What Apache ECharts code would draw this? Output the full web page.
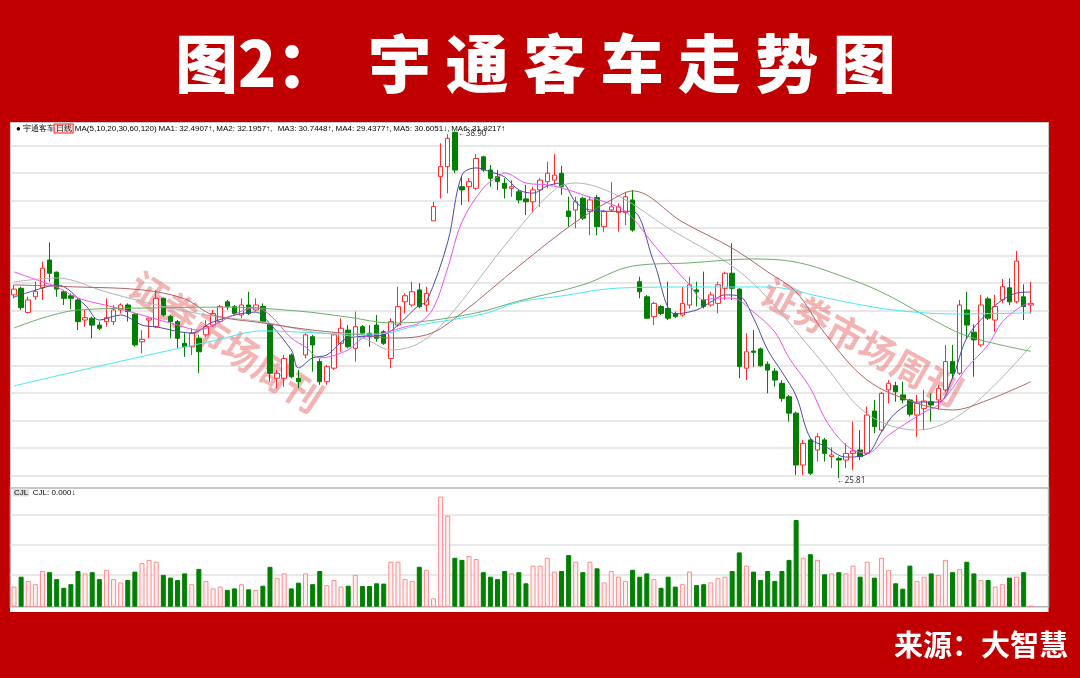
<!DOCTYPE html>
<html><head><meta charset="utf-8">
<script src="https://cdn.jsdelivr.net/npm/echarts@6/dist/echarts.min.js"></script>
<style>html,body{margin:0;padding:0;background:#c00000;overflow:hidden}#c{width:1080px;height:678px}</style>
</head><body><div id="c"></div>
<script>
// Daily candles: [open, close, low, high]
const ohlc = [
[32.73,32.95,32.60,33.11],[32.98,32.25,32.16,33.04],[32.07,32.54,32.03,32.66],[32.66,32.85,32.54,33.23],[33.00,33.74,32.54,33.99],
[34.05,33.55,33.23,34.72],[33.59,32.95,32.66,33.61],[32.85,32.60,32.35,32.92],[32.70,32.60,32.20,32.79],[32.54,31.72,31.40,32.60],
[31.78,31.87,31.53,32.16],[31.85,31.59,31.09,31.91],[31.59,31.47,31.40,31.72],[31.72,31.87,31.53,32.60],[31.72,32.16,31.59,32.35],
[32.16,32.35,32.03,32.41],[32.35,32.10,31.72,32.41],[32.00,30.84,30.77,32.03],[30.96,31.05,30.52,31.40],[31.78,31.85,31.09,31.87],
[31.53,32.60,31.47,32.92],[32.60,31.97,31.91,32.63],[31.91,31.72,31.09,31.97],[31.72,31.09,30.71,31.78],[30.90,30.77,30.39,31.28],
[30.77,31.28,30.46,31.47],[31.09,30.58,29.77,31.22],[31.22,31.53,31.15,31.78],[31.59,32.03,31.52,32.16],[31.72,32.29,31.66,32.35],
[32.47,32.29,32.16,32.54],[32.29,32.03,31.97,32.35],[31.97,32.35,31.85,32.60],[32.35,32.03,31.97,32.85],[32.16,32.35,32.10,32.60],
[32.29,31.72,31.66,32.41],[31.62,29.77,29.45,31.66],[29.58,29.77,29.20,29.89],[29.58,30.33,29.26,30.46],[30.46,29.64,29.58,30.52],
[29.58,29.45,29.20,29.89],[30.46,31.22,30.33,31.28],[31.15,30.84,29.83,31.22],[30.21,29.45,29.33,30.33],[29.45,30.02,29.33,30.08],
[29.96,31.22,29.89,31.28],[30.90,31.47,30.58,31.85],[31.40,30.77,30.71,31.59],[30.71,31.53,30.21,32.10],[31.53,31.28,31.22,31.59],
[31.28,31.15,30.77,31.59],[31.59,31.09,30.96,31.97],[31.34,30.90,30.84,31.40],[30.33,31.72,29.96,31.85],[31.59,32.29,31.53,33.04],
[32.47,32.70,32.03,32.79],[32.35,32.85,32.29,33.23],[32.92,32.29,32.22,33.17],[32.35,32.79,32.10,33.04],[35.53,36.07,35.53,36.25],
[37.20,37.58,36.38,38.46],[37.58,38.65,36.57,38.80],[38.88,37.45,37.33,38.90],[36.82,36.70,36.13,37.20],[36.82,37.01,36.25,37.14],
[36.76,37.89,36.70,38.05],[37.95,37.45,37.39,37.99],[37.45,37.14,36.82,37.64],[37.20,37.01,36.70,37.45],[36.95,36.76,36.38,37.14],
[36.76,36.82,36.44,37.07],[36.63,36.32,36.19,36.70],[36.36,36.25,35.75,36.89],[36.25,36.70,35.84,36.82],[36.70,37.07,36.06,37.14],
[37.01,37.33,36.76,37.77],[37.07,37.26,36.89,38.05],[37.33,36.82,36.51,37.61],[35.90,35.69,35.31,36.44],[35.94,36.25,35.25,36.44],
[36.38,35.63,35.56,36.44],[35.88,36.32,34.99,36.44],[36.41,35.31,34.99,36.51],[35.31,35.88,35.12,35.94],[35.94,36.06,35.88,36.99],
[35.84,36.06,35.12,36.19],[35.84,36.44,35.37,36.63],[36.32,35.18,35.12,36.70],[33.23,32.85,32.60,33.42],[32.66,31.85,31.82,32.73],
[31.91,32.41,31.59,32.47],[32.29,32.03,31.97,32.35],[32.22,31.85,31.78,33.23],[32.03,31.91,31.85,32.10],[31.97,32.41,31.91,33.04],
[32.35,33.11,32.22,33.42],[32.92,32.85,32.29,33.23],[32.54,32.29,32.22,33.61],[32.35,32.73,32.29,32.85],[32.41,33.11,32.03,33.23],
[32.98,33.55,32.54,33.61],[33.55,32.98,32.54,34.68],[32.95,30.02,29.58,32.98],[29.96,30.58,29.51,31.28],[30.61,30.56,30.00,31.40],
[30.69,30.05,30.02,30.74],[30.11,29.89,29.01,30.21],[29.85,29.51,29.26,29.96],[29.39,28.82,28.69,29.51],[28.88,28.26,27.94,28.95],
[28.26,26.30,25.92,28.32],[26.30,27.12,25.92,27.25],[27.25,25.99,25.92,27.32],[26.87,27.37,26.43,27.50],[27.25,26.74,26.43,27.32],
[26.62,26.68,26.18,26.97],[26.55,26.49,25.81,26.62],[26.49,26.74,26.18,27.12],[26.74,26.83,26.11,27.94],[26.87,26.62,26.49,27.62],
[26.74,28.19,26.68,28.51],[28.34,27.75,27.50,28.76],[27.62,29.01,27.56,29.07],[29.14,29.39,28.63,29.51],[29.30,29.07,28.69,29.45],
[28.95,28.76,28.63,29.45],[28.76,28.22,28.13,28.79],[28.19,28.63,27.37,28.95],[28.44,28.72,27.62,29.14],[28.69,28.57,27.94,29.01],
[28.76,29.20,28.38,29.33],[29.14,30.21,29.07,30.84],[30.21,29.77,29.58,30.84],[29.77,32.35,29.70,32.54],[32.16,31.59,31.09,32.85],
[31.32,31.03,29.64,31.62],[30.84,32.35,30.77,32.73],[32.58,31.85,31.78,32.66],[31.78,32.29,31.34,32.73],[32.54,33.04,32.41,33.33],
[33.00,32.47,32.35,33.36],[32.47,34.01,32.41,34.39],[32.66,32.29,31.78,33.13],[32.35,32.41,32.03,33.23]
];
// Volume (arbitrary units)
const volume = [
6.7,10,8.6,7.5,11.9,11.5,9.2,6.3,7.5,11.9,11.1,11.5,9.2,12.2,9.2,8.1,8.9,11.7,14.5,15.6,
15,10.6,9.7,8.9,11.1,7.5,12.6,8.6,6.1,6.7,5.6,6.1,7.5,5.8,5.6,7,13.3,9.5,11.1,6.1,
8,11.1,7.5,11.9,7.2,8.9,6.7,7,10.6,6.9,6.9,7.8,7.7,15,15,9.2,8.6,13.3,12.2,2.8,
36.7,30.3,16.3,15.6,16.9,15.9,11.5,10,9.2,11.9,11.1,11.5,7.8,13.7,13.7,16.3,11.7,11.9,17.2,15,
11.5,15,12.8,8.1,11.9,10,8.6,12.3,10,11.1,9.2,6.3,10,6.7,7.5,11.7,7.2,7.5,8.1,9.5,
10,11.9,18.1,13.7,11.7,8.9,11.9,8.6,11.9,15.6,28.9,16.3,17.5,15.6,10.8,11.1,11.5,11.1,13.7,10,
15,9.7,16.3,12.2,7.8,6,13.7,8.6,10,11.1,10.6,15.6,11.5,12.6,15,11.1,8.9,8.9,6.7,7.5,
9.7,10,11.5,0.3
];
// Moving averages read at sampled days: [dayIndex, value]
const ma5 = [[0,32.65],[4,32.99],[6,33.11],[10,32.35],[12,31.78],[15,31.97],[18,31.59],[20,31.52],[25,31.29],[28,31.71],[34,32.08],[35,31.93],[39,30.65],[40,29.97],[42,30.35],[44,30.46],[47,31.10],[52,31.22],[54,31.59],[57,32.35],[58,32.46],[61,34.73],[63,37.26],[65,37.53],[67,37.38],[69,37.19],[71,36.70],[73,36.58],[75,36.85],[77,36.96],[79,36.24],[81,35.94],[85,35.89],[87,35.89],[90,33.97],[93,32.01],[96,32.16],[98,32.46],[100,32.73],[102,32.69],[104,31.86],[106,30.65],[108,29.82],[110,28.91],[112,27.32],[114,27.02],[117,26.60],[120,26.72],[122,27.55],[124,28.27],[127,28.68],[130,28.68],[132,29.59],[134,31.10],[137,32.08],[139,32.54],[141,32.80],[143,32.84]];
const ma10 = [[0,33.60],[4,33.22],[6,33.03],[9,32.61],[14,32.27],[18,31.97],[23,31.59],[26,31.40],[28,31.59],[34,32.24],[36,31.97],[39,31.10],[41,30.76],[43,30.35],[47,30.65],[49,31.10],[52,31.29],[55,31.52],[57,31.67],[59,32.24],[61,33.75],[63,35.49],[66,36.77],[68,37.19],[69,37.34],[72,36.96],[75,36.89],[78,36.70],[80,36.51],[85,36.05],[87,35.64],[90,34.62],[95,33.11],[97,32.54],[99,32.61],[101,32.61],[104,32.08],[107,31.33],[109,30.35],[112,29.21],[114,28.08],[116,27.32],[118,26.87],[120,26.75],[123,27.43],[128,28.30],[130,28.57],[132,29.21],[134,29.97],[137,30.84],[139,31.71],[142,32.35],[143,32.40]];
const ma20 = [[0,33.22],[6,33.37],[13,32.84],[20,32.35],[28,31.93],[35,31.71],[42,31.33],[49,31.10],[53,30.65],[57,30.91],[61,31.86],[70,34.92],[76,36.70],[79,36.96],[85,36.47],[92,35.26],[101,33.82],[106,32.61],[114,30.08],[120,28.23],[127,27.62],[134,28.38],[143,30.80]];
const ma30 = [[0,33.11],[9,33.03],[18,32.92],[24,32.58],[28,31.97],[35,31.67],[42,31.40],[49,31.22],[53,31.10],[58,31.22],[63,32.05],[71,33.82],[79,35.49],[85,36.47],[87,36.66],[94,35.49],[101,34.50],[106,33.60],[110,32.84],[114,31.29],[120,29.51],[127,28.64],[132,28.38],[137,28.76],[143,29.45]];
const ma60 = [[0,31.48],[9,32.16],[20,32.24],[30,32.27],[40,32.12],[47,31.89],[53,31.67],[57,31.71],[65,32.05],[71,32.50],[80,33.11],[87,33.82],[95,33.94],[104,34.09],[110,33.97],[116,33.48],[122,32.84],[128,31.97],[134,31.18],[143,30.60]];
const ma120 = [[0,29.29],[12,30.04],[24,30.76],[28,30.99],[35,31.37],[43,31.29],[51,31.25],[57,31.59],[66,32.01],[71,32.46],[77,32.69],[85,32.99],[96,33.03],[105,33.03],[108,32.99],[113,32.69],[120,32.31],[125,32.12],[132,32.01],[143,32.05]];
// 144 trading days plus two empty slots at the right edge
const days = Array.from({length: 146}, (_, i) => 'D' + (i + 1));
const maNames = ['MA5','MA10','MA20','MA30','MA60','MA120'];

const chart = echarts.init(document.getElementById('c'), null, {renderer: 'canvas'});
const L = 10.45, W = 1038.1;
const CJK = '"Noto Sans CJK SC", "Noto Sans", sans-serif';
const upVol = {color: '#fff0f0', borderColor: '#ff8c8c', borderWidth: 1};
const dnVol = {color: '#008000', borderColor: '#008000', borderWidth: 1};
const volData = volume.map((v, i) => ({value: v, itemStyle: ohlc[i][1] >= ohlc[i][0] ? upVol : dnVol}));
const helperSplit = {show: true, showMinLine: false, showMaxLine: false, lineStyle: {color: '#e8e8e8', width: 2}};
const hiddenX = gi => ({type: 'category', gridIndex: gi, data: days, boundaryGap: true, show: false});
const maColors = ['#4a4aa6', '#f050f0', '#b4b4b4', '#b06464', '#6cae6c', '#4ee6f2'];
const maData = [ma5, ma10, ma20, ma30, ma60, ma120];
const wm = 'rgba(232,105,105,0.5)';

const option = {
  animation: false,
  backgroundColor: '#c00000',
  grid: [
    {left: 10, top: 122.5, width: 1038.5, height: 489.5, show: true, backgroundColor: '#ffffff', borderWidth: 0},
    {left: L, top: 118.2, width: W, height: 385},
    {left: L, top: 488, width: W, height: 118.7, show: true, borderColor: '#b4b4b4', borderWidth: 1.5, backgroundColor: 'transparent'},
    {left: L, top: 484.3, width: W, height: 120},
    {left: L, top: 122.5, width: W, height: 365.5, show: true, borderColor: '#c8c8c8', borderWidth: 1, backgroundColor: 'transparent'}
  ],
  xAxis: [hiddenX(0), hiddenX(1), hiddenX(2), hiddenX(3), hiddenX(4)],
  yAxis: [
    {type: 'value', gridIndex: 0, min: 0, max: 1, show: false},
    {type: 'value', gridIndex: 1, min: 24.857, max: 39.41, show: false},
    {type: 'value', gridIndex: 1, min: 0, max: 14, interval: 1, axisLine: {show: false}, axisTick: {show: false}, axisLabel: {show: false}, splitLine: helperSplit},
    {type: 'value', gridIndex: 2, min: 0, max: 39.57, show: false},
    {type: 'value', gridIndex: 3, min: 0, max: 4, interval: 1, axisLine: {show: false}, axisTick: {show: false}, axisLabel: {show: false}, splitLine: helperSplit},
    {type: 'value', gridIndex: 4, min: 0, max: 1, show: false}
  ],
  graphic: [
    {type: 'text', x: 175, y: 63, z: 10, style: {text: '图2：  宇 通 客 车 走 势 图', fill: '#ffffff', fontSize: 63, fontWeight: 900, fontFamily: CJK, align: 'left', verticalAlign: 'middle', textAlign: 'left', textVerticalAlign: 'middle'}},
    {type: 'text', x: 1068, y: 645, z: 10, style: {text: '来源：大智慧', fill: '#ffffff', fontSize: 29, fontWeight: 'bold', fontFamily: CJK, align: 'right', verticalAlign: 'middle', textAlign: 'right', textVerticalAlign: 'middle'}},
    {type: 'text', x: 226, y: 342, rotation: -0.58, z: 1, style: {text: '证券市场周刊', fill: wm, fontSize: 37, fontWeight: 'bold', fontFamily: CJK, align: 'center', verticalAlign: 'middle', textAlign: 'center', textVerticalAlign: 'middle'}},
    {type: 'text', x: 862, y: 342, rotation: -0.5, z: 1, style: {text: '证券市场周刊', fill: wm, fontSize: 37, fontWeight: 'bold', fontFamily: CJK, align: 'center', verticalAlign: 'middle', textAlign: 'center', textVerticalAlign: 'middle'}},
    {type: 'text', x: 16, y: 128.5, z: 10, style: {
      text: '{dot|●} {nm|宇通客车}{bx|日线}{g| MA(5,10,20,30,60,120)} {a|MA1: 32.4907↑,} {b|MA2: 32.1957↑,}   {c|MA3: 30.7448↑,} {d|MA4: 29.4377↑,} {e|MA5: 30.6051↓,} {f|MA6: 31.9217↑}',
      fontSize: 8, fontFamily: CJK, verticalAlign: 'middle', textVerticalAlign: 'middle',
      rich: {
        dot: {color: '#ff2020', fontSize: 8},
        nm: {color: '#333333', fontSize: 8},
        bx: {color: '#ff2020', fontSize: 8, borderColor: '#ff2020', borderWidth: 1, backgroundColor: '#ffe6e6', padding: [0, 1]},
        g: {color: '#333333', fontSize: 8},
        a: {color: '#3a3aa0', fontSize: 8},
        b: {color: '#e030e0', fontSize: 8},
        c: {color: '#999999', fontSize: 8},
        d: {color: '#a04040', fontSize: 8},
        e: {color: '#2a8a2a', fontSize: 8},
        f: {color: '#30d0e0', fontSize: 8}
      }}},
    {type: 'text', x: 13, y: 492.5, z: 10, style: {
      text: '{bx|CJL}  {a|CJL: 0.000}{gr|↓}', fontSize: 8, fontFamily: CJK, verticalAlign: 'middle', textVerticalAlign: 'middle',
      rich: {
        bx: {color: '#333333', fontSize: 8, backgroundColor: '#e0e0e0', padding: [0, 1]},
        a: {color: '#3a3aa0', fontSize: 8},
        gr: {color: '#2a8a2a', fontSize: 8}
      }}}
  ],
  series: [
    {
      type: 'candlestick', name: '日线', xAxisIndex: 1, yAxisIndex: 1, data: ohlc, barWidth: 5, z: 4,
      itemStyle: {color: '#ffffff', color0: '#008000', borderColor: '#ff2a2a', borderColor0: '#008000', borderWidth: 1},
      markPoint: {
        symbol: 'circle', symbolSize: 0, silent: true,
        label: {show: true, fontSize: 8, color: '#333333', fontFamily: 'Noto Sans'},
        data: [
          {type: 'max', valueDim: 'highest', label: {position: 'right', distance: 3, offset: [0, 2], formatter: p => '\u2190' + Number(p.value).toFixed(2)}},
          {type: 'min', valueDim: 'lowest', label: {position: 'right', distance: 0, offset: [-2, 3], formatter: p => '\u2190' + Number(p.value).toFixed(2)}}
        ]
      }
    },
    {type: 'bar', name: 'CJL', xAxisIndex: 2, yAxisIndex: 3, data: volData, barWidth: 5, z: 4},
    ...maData.map((d, k) => ({
      type: 'line', name: maNames[k], xAxisIndex: 1, yAxisIndex: 1, data: d, smooth: 0.35,
      symbol: 'none', z: 6, lineStyle: {color: maColors[k], width: 1}
    }))
  ]
};
chart.setOption(option);
</script>
</body></html>
